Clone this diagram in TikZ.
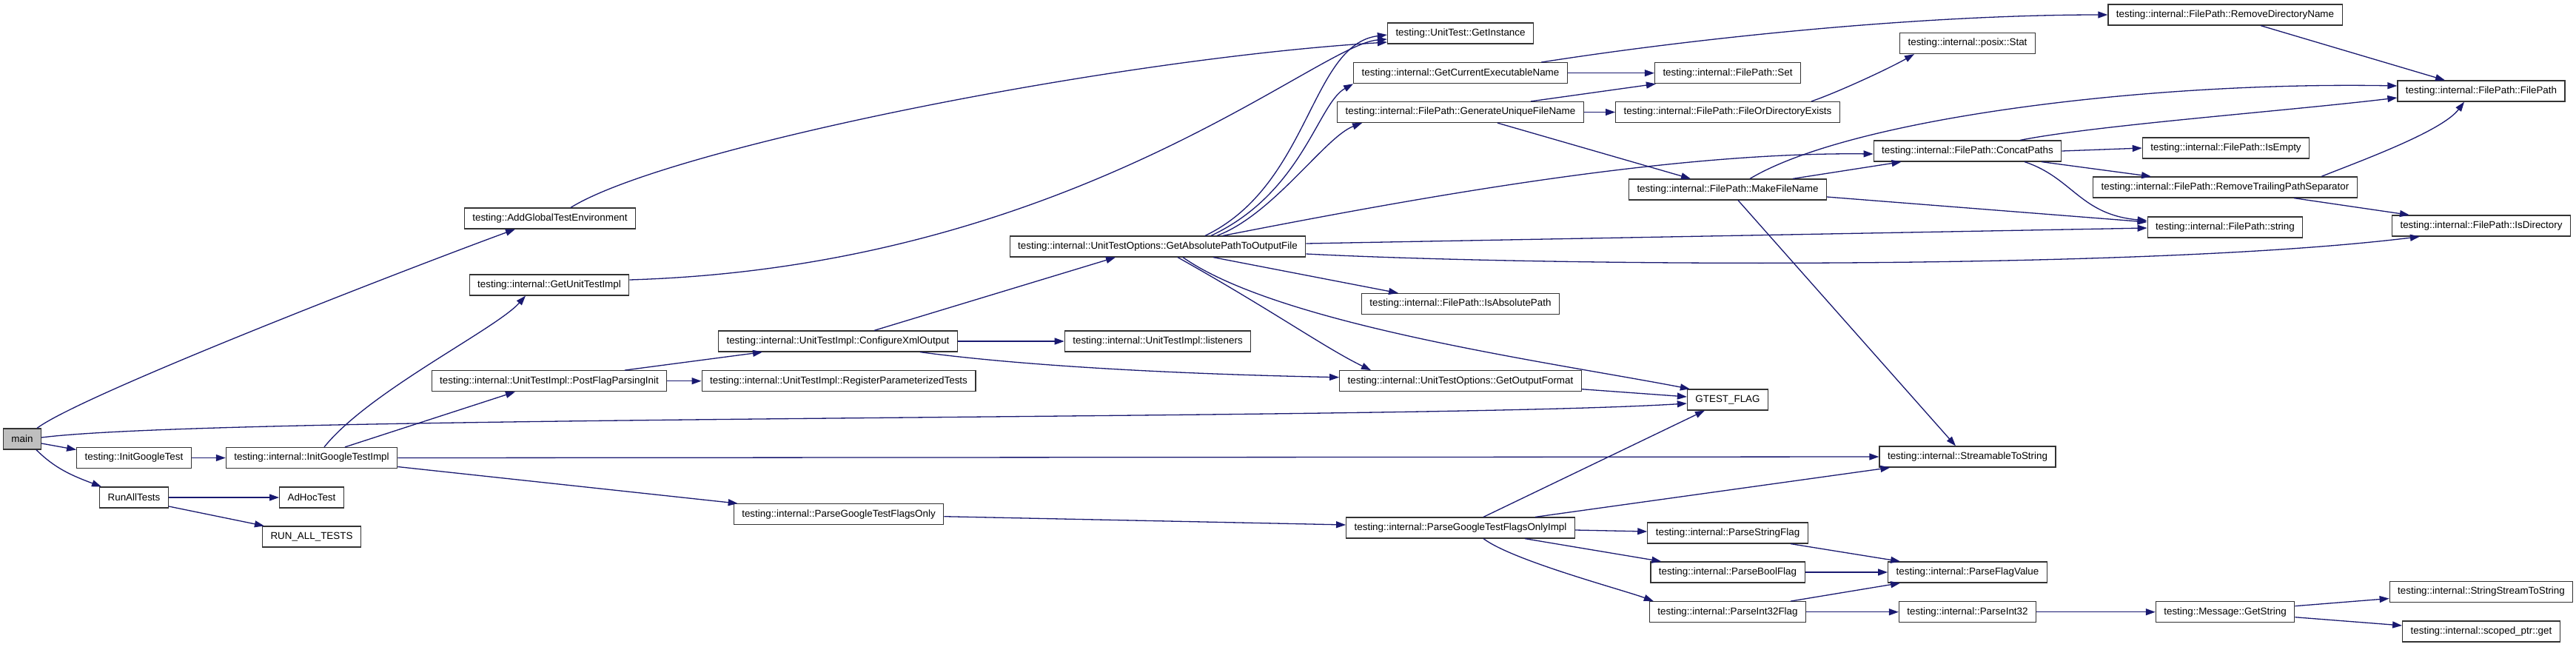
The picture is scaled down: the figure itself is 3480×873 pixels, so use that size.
\documentclass[tikz,border=0pt]{standalone}
\usepackage{fontspec}
\setmainfont{Liberation Sans}
\usepackage{xcolor}
\usepackage{tikz}
\usetikzlibrary{arrows.meta}
\definecolor{edgeblue}{HTML}{191970}
\definecolor{boxgray}{HTML}{BFBFBF}
\newcommand\fnfont{\fontsize{13.4}{16}\selectfont}

\begin{document}
\begin{tikzpicture}[x=1pt,y=-1pt,
  fn/.style={draw=black!80,line width=1.2pt,fill=white,inner xsep=11pt,inner ysep=0pt,minimum height=28pt,font=\fnfont},
  call/.style={draw=edgeblue,line width=1.3pt,-{Triangle[length=13pt,width=9pt]}}]
  \useasboundingbox[fill=white] (0,0) rectangle (3480,873);
  \node[fn,fill=boxgray] (main) at (30,593) {main};
  \node[fn] (agte) at (743,295) {testing::AddGlobalTestEnvironment};
  \node[fn] (guti) at (742,385) {testing::internal::GetUnitTestImpl};
  \node[fn] (igt) at (181,618.5) {testing::InitGoogleTest};
  \node[fn] (igti) at (421,618.5) {testing::internal::InitGoogleTestImpl};
  \node[fn] (rat) at (181,672) {RunAllTests};
  \node[fn] (adhoc) at (421,672) {AdHocTest};
  \node[fn] (runall) at (421,725) {RUN\_ALL\_TESTS};
  \node[fn] (pfpi) at (742,514.7) {testing::internal::UnitTestImpl::PostFlagParsingInit};
  \node[fn] (cxo) at (1132,461) {testing::internal::UnitTestImpl::ConfigureXmlOutput};
  \node[fn] (lst) at (1564,461) {testing::internal::UnitTestImpl::listeners};
  \node[fn] (rpt) at (1133,514.7) {testing::internal::UnitTestImpl::RegisterParameterizedTests};
  \node[fn] (pgtfo) at (1133,694.7) {testing::internal::ParseGoogleTestFlagsOnly};
  \node[fn] (gapto) at (1564,333) {testing::internal::UnitTestOptions::GetAbsolutePathToOutputFile};
  \node[fn] (ginst) at (1973,45) {testing::UnitTest::GetInstance};
  \node[fn] (gcen) at (1973,98.7) {testing::internal::GetCurrentExecutableName};
  \node[fn] (fpset) at (2334,98.7) {testing::internal::FilePath::Set};
  \node[fn] (gufn) at (1973,151.5) {testing::internal::FilePath::GenerateUniqueFileName};
  \node[fn] (fode) at (2334,151.5) {testing::internal::FilePath::FileOrDirectoryExists};
  \node[fn] (stat) at (2658,58.5) {testing::internal::posix::Stat};
  \node[fn] (mfn) at (2334,256) {testing::internal::FilePath::MakeFileName};
  \node[fn] (concat) at (2658,204) {testing::internal::FilePath::ConcatPaths};
  \node[fn] (isabs) at (1973,410.5) {testing::internal::FilePath::IsAbsolutePath};
  \node[fn] (gof) at (1973,514.7) {testing::internal::UnitTestOptions::GetOutputFormat};
  \node[fn] (gflag) at (2334,540) {GTEST\_FLAG};
  \node[fn] (s2s) at (2658,617) {testing::internal::StreamableToString};
  \node[fn] (pgtfoi) at (1973,713) {testing::internal::ParseGoogleTestFlagsOnlyImpl};
  \node[fn] (psf) at (2334,720) {testing::internal::ParseStringFlag};
  \node[fn] (pbf) at (2334,773) {testing::internal::ParseBoolFlag};
  \node[fn] (pi32f) at (2334,826.7) {testing::internal::ParseInt32Flag};
  \node[fn] (pfv) at (2658,773) {testing::internal::ParseFlagValue};
  \node[fn] (pi32) at (2658,826.7) {testing::internal::ParseInt32};
  \node[fn] (rdn) at (3006,20) {testing::internal::FilePath::RemoveDirectoryName};
  \node[fn] (fpfp) at (3352,123) {testing::internal::FilePath::FilePath};
  \node[fn] (isempty) at (3007,200) {testing::internal::FilePath::IsEmpty};
  \node[fn] (rtps) at (3006,253) {testing::internal::FilePath::RemoveTrailingPathSeparator};
  \node[fn] (fpstr) at (3006,307) {testing::internal::FilePath::string};
  \node[fn] (isdir) at (3352,305) {testing::internal::FilePath::IsDirectory};
  \node[fn] (getstr) at (3006,826.7) {testing::Message::GetString};
  \node[fn] (ss2s) at (3352,799.5) {testing::internal::StringStreamToString};
  \node[fn] (sptr) at (3352,853) {testing::internal::scoped\_ptr::get};

  \draw[call] ([xshift=20pt]main.north) .. controls +(60,-45) and +(-150,55) .. ([xshift=-47pt]agte.south);
  \draw[call] ([yshift=2pt]main.east) .. controls (300,560) and (1900,568) .. ([yshift=-5pt]gflag.west);
  \draw[call] ([yshift=-6pt]main.east) -- ([yshift=11pt]igt.west);
  \draw[call] ([xshift=19pt]main.south) .. controls +(25,25) and +(-40,-15) .. ([xshift=3pt]rat.north west);
  \draw[call] ([xshift=28pt]agte.north) .. controls (900,200) and (1500,80) .. ([yshift=-12pt]ginst.west);
  \draw[call] ([yshift=7pt]guti.east) .. controls (1450,360) and (1780,60) .. ([yshift=-8pt]ginst.west);
  \draw[call] (igt) -- (igti);
  \draw[call] ([xshift=17pt]igti.north) .. controls +(60,-75) and +(-40,45) .. ([xshift=-32pt]guti.south);
  \draw[call] ([xshift=45pt]igti.north) -- ([xshift=-46pt]pfpi.south);
  \draw[call] (igti.east) -- (s2s.west);
  \draw[call] ([yshift=-12pt]igti.east) -- ([xshift=6pt]pgtfo.north west);
  \draw[call] (rat) -- (adhoc);
  \draw[call] ([yshift=-12pt]rat.east) -- ([xshift=3pt]runall.north west);
  \draw[call] ([xshift=102pt]pfpi.north) -- ([xshift=-102pt]cxo.south);
  \draw[call] (pfpi) -- (rpt);
  \draw[call] ([xshift=49pt]cxo.north) -- ([xshift=-57pt]gapto.south);
  \draw[call] (cxo) -- (lst);
  \draw[call] ([xshift=111pt]cxo.south) .. controls +(150,20) and +(-200,-4) .. ([yshift=5pt]gof.west);
  \draw[call] ([xshift=64pt]gapto.north) .. controls (1770,250) and (1770,60) .. ([yshift=-2pt]ginst.west);
  \draw[call] ([xshift=72pt]gapto.north) .. controls (1760,260) and (1780,140) .. (gcen.south west);
  \draw[call] ([xshift=80pt]gapto.north) .. controls (1720,290) and (1790,185) .. ([xshift=34pt]gufn.south west);
  \draw[call] ([xshift=88pt]gapto.north) .. controls (1900,270) and (2250,205) .. ([yshift=-4pt]concat.west);
  \draw[call] ([xshift=27pt]gapto.south) .. controls (1720,420) and (1790,470) .. ([xshift=-121pt]gof.north);
  \draw[call] ([xshift=34pt]gapto.south) .. controls (1730,440) and (2100,490) .. ([xshift=4pt]gflag.north west);
  \draw[call] ([xshift=75pt]gapto.south) -- ([xshift=-84pt]isabs.north);
  \draw[call] ([yshift=4pt]gapto.east) -- ([yshift=-1pt]fpstr.west);
  \draw[call] ([yshift=-10pt]gapto.east) .. controls (2100,360) and (2900,365) .. ([xshift=38pt]isdir.south west);
  \draw[call] ([xshift=109pt]gcen.north) .. controls (2300,50) and (2600,20) .. (rdn.west);
  \draw[call] (gcen) -- (fpset);
  \draw[call] ([xshift=95pt]gufn.north) -- ([xshift=2pt]fpset.south west);
  \draw[call] (gufn) -- (fode);
  \draw[call] ([xshift=50pt]gufn.south) -- ([xshift=-50pt]mfn.north);
  \draw[call] ([xshift=113pt]fode.north) .. controls +(35,-12) and +(-35,20) .. ([xshift=20pt]stat.south west);
  \draw[call] ([xshift=88pt]mfn.north) -- ([xshift=38pt]concat.south west);
  \draw[call] ([xshift=30pt]mfn.north) .. controls (2500,160) and (2900,110) .. ([yshift=7pt]fpfp.west);
  \draw[call] ([yshift=-10pt]mfn.east) -- ([yshift=7pt]fpstr.west);
  \draw[call] ([xshift=14pt]mfn.south) -- ([xshift=-16pt]s2s.north);
  \draw[call] ([xshift=48pt]rdn.south) -- ([xshift=-49pt]fpfp.north);
  \draw[call] ([xshift=71pt]concat.north) .. controls +(100,-20) and +(-150,18) .. ([yshift=-9pt]fpfp.west);
  \draw[call] (concat.east) -- (isempty.west);
  \draw[call] ([xshift=100pt]concat.south) -- ([xshift=-100pt]rtps.north);
  \draw[call] ([xshift=77pt]concat.south) .. controls (2800,240) and (2810,290) .. ([yshift=9pt]fpstr.west);
  \draw[call] ([xshift=130pt]rtps.north) .. controls +(50,-20) and +(-30,40) .. ([xshift=-23pt]fpfp.south);
  \draw[call] ([xshift=93pt]rtps.south) -- ([xshift=24pt]isdir.north west);
  \draw[call] ([yshift=-3pt]pgtfo.east) -- ([yshift=4pt]pgtfoi.west);
  \draw[call] ([xshift=31pt]pgtfoi.north) -- ([xshift=-31pt]gflag.south);
  \draw[call] ([xshift=101pt]pgtfoi.north) -- ([xshift=15pt]s2s.south west);
  \draw[call] ([yshift=-3pt]pgtfoi.east) -- ([yshift=2pt]psf.west);
  \draw[call] ([xshift=87pt]pgtfoi.south) -- ([xshift=15pt]pbf.north west);
  \draw[call] ([xshift=31pt]pgtfoi.south) .. controls +(40,30) and +(-40,-15) .. ([xshift=6pt]pi32f.north west);
  \draw[call] ([xshift=85pt]psf.south) -- ([xshift=17pt]pfv.north west);
  \draw[call] (pbf) -- (pfv);
  \draw[call] ([xshift=85pt]pi32f.north) -- ([xshift=17pt]pfv.south west);
  \draw[call] (pi32f) -- (pi32);
  \draw[call] (pi32) -- (getstr);
  \draw[call] ([yshift=8pt]getstr.east) -- ([yshift=-9pt]ss2s.west);
  \draw[call] ([yshift=-7pt]getstr.east) -- ([yshift=8pt]sptr.west);
  \draw[call] ([yshift=-11pt]gof.east) -- ([yshift=4pt]gflag.west);
\end{tikzpicture}
\end{document}
